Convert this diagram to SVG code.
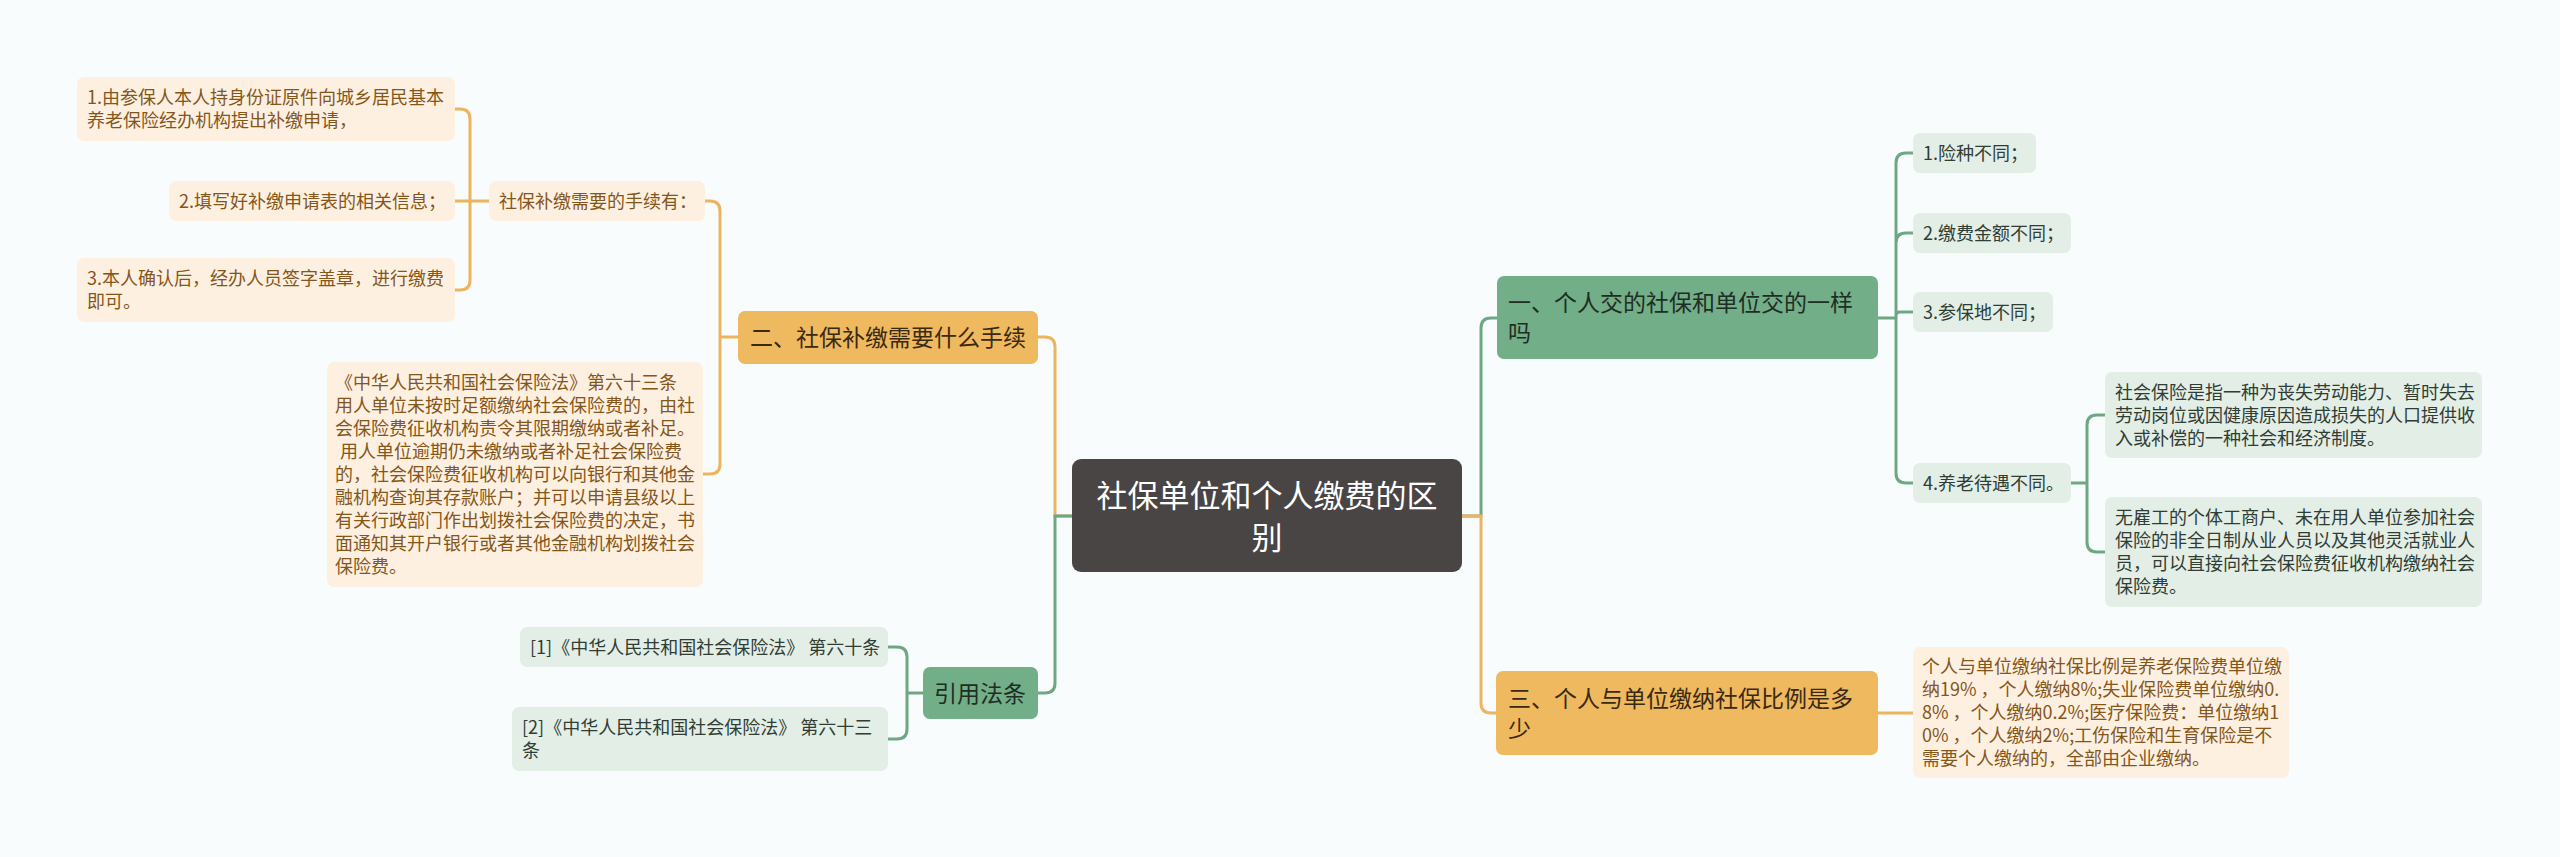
<svg xmlns="http://www.w3.org/2000/svg" width="2560" height="857" viewBox="0 0 2560 857">
<style>
text{font-family:"Noto Sans CJK SC","Noto Sans",sans-serif;}
.s{font-size:18px;}
.m{font-size:23px;}
.r{font-size:31px;fill:#ffffff;text-anchor:middle;}
.pb{fill:#fdf0e1;}
.pt{fill:#85561a;}
.gb{fill:#e3eee6;}
.gt{fill:#2f3d34;}
.cg{fill:none;stroke:#6ea784;stroke-width:3;stroke-linecap:round;}
.cy{fill:none;stroke:#ecb45f;stroke-width:3;stroke-linecap:round;}
</style>
<rect x="0" y="0" width="2560" height="857" fill="#f8fcfc"/>
<g id="connectors">
<path class="cy" d="M1072,516 H1055 V347 Q1055,337 1045,337 H1038"/>
<path class="cg" d="M1072,516 H1055 V683 Q1055,693 1045,693 H1038"/>
<path class="cy" d="M738,337 H720 M720,337 V211 Q720,201 710,201 H705 M720,337 V464 Q720,474 710,474 H703"/>
<path class="cy" d="M489,201 H470 M470,201 V119 Q470,109 460,109 H455 M470,201 H455 M470,201 V280 Q470,290 460,290 H455"/>
<path class="cg" d="M923,693 H907 M907,693 V657 Q907,647 897,647 H888 M907,693 V729 Q907,739 897,739 H888"/>
<path class="cg" d="M1462,516 H1481 V328 Q1481,318 1491,318 H1497"/>
<path class="cy" d="M1462,516 H1481 V703 Q1481,713 1491,713 H1496"/>
<path class="cg" d="M1878,318 H1896 M1896,318 V163 Q1896,153 1906,153 H1913 M1896,318 V243 Q1896,233 1906,233 H1913 M1896,318 V316 Q1896,312 1900,312 H1913 M1896,318 V473 Q1896,483 1906,483 H1913"/>
<path class="cg" d="M2071,483 H2087 M2087,483 V425 Q2087,415 2097,415 H2105 M2087,483 V542 Q2087,552 2097,552 H2105"/>
<path class="cy" d="M1878,713 H1913"/>
</g>
<g id="root">
<rect x="1072" y="459" width="390" height="113" rx="9" fill="#4a4545"/>
<text class="r" x="1267" y="507">社保单位和个人缴费的区</text>
<text class="r" x="1267" y="549">别</text>
</g>
<g id="b2">
<rect x="738" y="311" width="300" height="53" rx="7" fill="#efb95f"/>
<text class="m" x="750" y="346" fill="#3a2a12">二、社保补缴需要什么手续</text>
</g>
<g id="b2a">
<rect class="pb" x="489" y="181" width="216" height="40" rx="7"/>
<text class="s pt" x="499" y="208">社保补缴需要的手续有：</text>
</g>
<g id="b2a1">
<rect class="pb" x="77" y="77" width="378" height="64" rx="7"/>
<text class="s pt" x="87" y="104">1.由参保人本人持身份证原件向城乡居民基本</text>
<text class="s pt" x="87" y="127">养老保险经办机构提出补缴申请，</text>
</g>
<g id="b2a2">
<rect class="pb" x="169" y="181" width="286" height="40" rx="7"/>
<text class="s pt" x="179" y="208">2.填写好补缴申请表的相关信息；</text>
</g>
<g id="b2a3">
<rect class="pb" x="77" y="258" width="378" height="64" rx="7"/>
<text class="s pt" x="87" y="285">3.本人确认后，经办人员签字盖章，进行缴费</text>
<text class="s pt" x="87" y="308">即可。</text>
</g>
<g id="b2b">
<rect class="pb" x="327" y="362" width="376" height="225" rx="7"/>
<text class="s pt" x="335" y="389">《中华人民共和国社会保险法》第六十三条</text>
<text class="s pt" x="335" y="412">用人单位未按时足额缴纳社会保险费的，由社</text>
<text class="s pt" x="335" y="435">会保险费征收机构责令其限期缴纳或者补足。</text>
<text class="s pt" x="340" y="458">用人单位逾期仍未缴纳或者补足社会保险费</text>
<text class="s pt" x="335" y="481">的，社会保险费征收机构可以向银行和其他金</text>
<text class="s pt" x="335" y="504">融机构查询其存款账户；并可以申请县级以上</text>
<text class="s pt" x="335" y="527">有关行政部门作出划拨社会保险费的决定，书</text>
<text class="s pt" x="335" y="550">面通知其开户银行或者其他金融机构划拨社会</text>
<text class="s pt" x="335" y="573">保险费。</text>
</g>
<g id="b4">
<rect x="923" y="667" width="115" height="52" rx="7" fill="#72ae87"/>
<text class="m" x="934" y="702" fill="#1f2d24">引用法条</text>
</g>
<g id="b4a">
<rect class="gb" x="520" y="627" width="368" height="40" rx="7"/>
<text class="s gt" x="530" y="654">[1]《中华人民共和国社会保险法》 第六十条</text>
</g>
<g id="b4b">
<rect class="gb" x="512" y="707" width="376" height="64" rx="7"/>
<text class="s gt" x="522" y="734">[2]《中华人民共和国社会保险法》 第六十三</text>
<text class="s gt" x="522" y="757">条</text>
</g>
<g id="b1">
<rect x="1497" y="276" width="381" height="83" rx="7" fill="#72ae87"/>
<text class="m" x="1508" y="311" fill="#1f2d24">一、个人交的社保和单位交的一样</text>
<text class="m" x="1508" y="341" fill="#1f2d24">吗</text>
</g>
<g id="b1a">
<rect class="gb" x="1913" y="133" width="123" height="40" rx="7"/>
<text class="s gt" x="1923" y="160">1.险种不同；</text>
</g>
<g id="b1b">
<rect class="gb" x="1913" y="213" width="158" height="40" rx="7"/>
<text class="s gt" x="1923" y="240">2.缴费金额不同；</text>
</g>
<g id="b1c">
<rect class="gb" x="1913" y="292" width="140" height="40" rx="7"/>
<text class="s gt" x="1923" y="319">3.参保地不同；</text>
</g>
<g id="b1d">
<rect class="gb" x="1913" y="463" width="158" height="40" rx="7"/>
<text class="s gt" x="1923" y="490">4.养老待遇不同。</text>
</g>
<g id="b1d1">
<rect class="gb" x="2105" y="372" width="377" height="86" rx="7"/>
<text class="s gt" x="2115" y="399">社会保险是指一种为丧失劳动能力、暂时失去</text>
<text class="s gt" x="2115" y="422">劳动岗位或因健康原因造成损失的人口提供收</text>
<text class="s gt" x="2115" y="445">入或补偿的一种社会和经济制度。</text>
</g>
<g id="b1d2">
<rect class="gb" x="2105" y="497" width="377" height="110" rx="7"/>
<text class="s gt" x="2115" y="524">无雇工的个体工商户、未在用人单位参加社会</text>
<text class="s gt" x="2115" y="547">保险的非全日制从业人员以及其他灵活就业人</text>
<text class="s gt" x="2115" y="570">员，可以直接向社会保险费征收机构缴纳社会</text>
<text class="s gt" x="2115" y="593">保险费。</text>
</g>
<g id="b3">
<rect x="1496" y="671" width="382" height="84" rx="7" fill="#efb95f"/>
<text class="m" x="1508" y="707" fill="#3a2a12">三、个人与单位缴纳社保比例是多</text>
<text class="m" x="1508" y="737" fill="#3a2a12">少</text>
</g>
<g id="b3a">
<rect class="pb" x="1913" y="647" width="376" height="131" rx="7"/>
<text class="s pt" x="1922" y="673">个人与单位缴纳社保比例是养老保险费单位缴</text>
<text class="s pt" x="1922" y="696">纳19% ，个人缴纳8%;失业保险费单位缴纳0.</text>
<text class="s pt" x="1922" y="719">8% ，个人缴纳0.2%;医疗保险费：单位缴纳1</text>
<text class="s pt" x="1922" y="742">0% ，个人缴纳2%;工伤保险和生育保险是不</text>
<text class="s pt" x="1922" y="765">需要个人缴纳的，全部由企业缴纳。</text>
</g>
</svg>
